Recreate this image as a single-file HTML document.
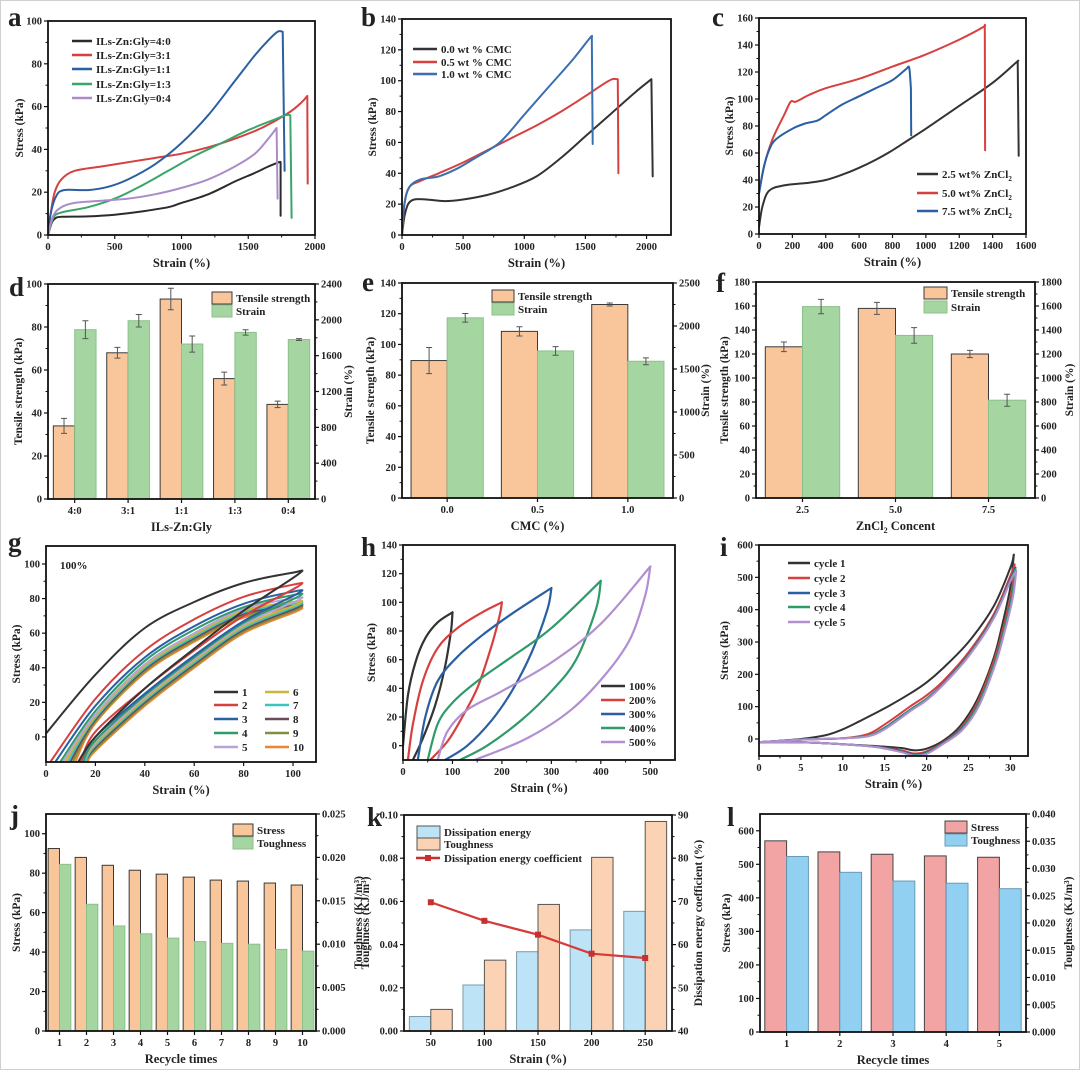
<!DOCTYPE html>
<html><head><meta charset="utf-8"><title>Mechanical properties figure</title>
<style>
html,body{margin:0;padding:0;background:#fff;}
svg{display:block;}
text{font-family:"Liberation Serif",serif;font-weight:bold;fill:#222;}
</style></head>
<body>
<svg id="fig" xmlns="http://www.w3.org/2000/svg" width="1080" height="1070" viewBox="0 0 1080 1070">
<rect x="0.5" y="0.5" width="1079" height="1069" fill="#fff" stroke="#d0d0d0"/>
</svg>
<script>
// ---------- data ----------
// panel a
const aNames=["ILs-Zn:Gly=4:0","ILs-Zn:Gly=3:1","ILs-Zn:Gly=1:1","ILs-Zn:Gly=1:3","ILs-Zn:Gly=0:4"];
const a40=[[0,0],[30,6],[60,8],[100,8.5],[300,8.7],[500,9.5],[700,11],[900,13],[1000,15],[1200,19],[1400,25],[1550,29],[1650,32],[1730,34],[1742,34],[1742,9]];
const a31=[[0,0],[20,10],[50,20],[100,26],[200,30],[400,32],[600,34],[800,36],[1000,38],[1200,41],[1400,45],[1600,50],[1800,57],[1900,62],[1942,65],[1945,24]];
const a11=[[0,0],[20,10],[60,18],[120,21],[300,21],[450,22.5],[600,26],[800,33],[1000,43],[1200,56],[1400,72],[1550,84],[1650,91],[1720,95],[1758,95],[1772,30]];
const a13=[[0,0],[40,8],[100,10.5],[300,13],[500,17],[700,23],[900,30],[1100,37],[1300,43],[1500,49],[1700,54],[1780,56],[1815,56],[1825,8]];
const a04=[[0,0],[40,9],[100,13],[200,15],[400,16],[600,17],[800,19],[1000,22],[1200,26],[1400,32],[1550,38],[1650,45],[1712,50],[1720,17]];
// panel b
const bNames=["0.0 wt % CMC","0.5 wt % CMC","1.0 wt % CMC"];
const b00=[[0,0],[20,12],[50,20],[100,23],[200,23],[350,22],[500,23],[700,26],[900,31],[1100,38],[1300,50],[1500,64],[1700,78],[1900,92],[2040,101],[2050,38]];
const b05=[[0,0],[20,20],[60,31],[150,35],[300,40],[500,47],[700,55],[900,63],[1100,71],[1300,80],[1500,90],[1650,98],[1720,101],[1765,101],[1770,40]];
const b10=[[0,0],[20,20],[60,31],[150,36],[300,38],[450,43],[600,50],[800,60],[1000,78],[1200,96],[1400,114],[1540,128],[1552,128],[1560,59]];
// panel c
const cNames=["2.5 wt% ZnCl","5.0 wt% ZnCl","7.5 wt% ZnCl"];
const c25=[[0,5],[20,20],[60,32],[150,36],[300,38],[400,40],[500,44],[600,49],[700,55],[800,62],[900,70],[1000,78],[1200,95],[1400,112],[1540,127],[1550,128],[1556,58]];
const c50=[[0,30],[30,50],[80,70],[150,88],[190,98],[220,98],[300,103],[400,108],[600,115],[800,124],[1000,133],[1200,144],[1340,153],[1353,155],[1355,62]];
const c75=[[0,30],[30,50],[60,62],[100,70],[200,78],[280,82],[350,84],[400,88],[500,96],[600,102],[700,108],[800,114],[880,122],[900,123],[910,108],[912,73]];
// panel d
const dCats=["4:0","3:1","1:1","1:3","0:4"];
const dTS=[34,68,93,56,44], dTSerr=[3.5,2.5,5,3,1.5];
const dST=[1890,1990,1730,1860,1780], dSTerr=[100,70,90,30,10];
// panel e
const eCats=["0.0","0.5","1.0"];
const eTS=[89.5,108.5,126], eTSerr=[8.5,3,1];
const eST=[2095,1710,1590], eSTerr=[50,50,40];
// panel f
const fCats=["2.5","5.0","7.5"];
const fTS=[126,158,120], fTSerr=[4,5,3];
const fST=[1595,1355,815], fSTerr=[60,65,50];
// panel g (cyclic loops at 100%)
const gStart=[0,2,4,6,7,8,9,10,11,12];
const gStartY=[2,-14,-14,-14,-14,-14,-14,-14,-14,-14];
const gLoad=[[36,63,78,89],[22,50,68,81],[18,46,64,77],[15,44,62,75],[13,42,60,74],[12,41,59,73],[11,40,58,72],[10,39,57,71],[9,38,56,70],[8,37,55,69]];
const gPeak=[95,88,84,82,80,78,77,76,75,74];
const gUnload=[[73,51,28,0],[70,50,28,3],[67,47,25,0],[66,46,24,-2],[65,45,23,-3],[64,44,22,-4],[63,43,21,-5],[62,42,20,-6],[61,41,19,-7],[60,40,18,-8]];
const gEnd=[13,14,14,15,15,15,16,16,16,17];
// panel h
const hNames=["100%","200%","300%","400%","500%"];
const hLoad=[
 [[0,0],[10,35],[25,58],[45,75],[70,86],[100,93]],
 [[10,-10],[20,15],[40,45],[70,68],[110,82],[160,93],[200,100]],
 [[30,-10],[45,20],[70,45],[110,62],[160,77],[220,92],[300,110]],
 [[50,-10],[70,15],[100,30],[150,45],[220,62],[300,82],[400,115]],
 [[70,-10],[90,10],[130,25],[200,38],[300,58],[400,85],[500,125]]];
const hUnload=[
 [[100,93],[97,80],[85,55],[65,28],[40,5],[20,-10]],
 [[200,100],[195,90],[175,65],[150,40],[120,20],[90,3],[55,-10]],
 [[300,110],[292,95],[260,65],[220,38],[180,18],[130,0],[85,-10]],
 [[400,115],[390,95],[350,60],[300,38],[240,18],[170,0],[115,-10]],
 [[500,125],[490,105],[460,75],[410,50],[340,25],[250,5],[145,-10]]];
// panel i
const iNames=["cycle 1","cycle 2","cycle 3","cycle 4","cycle 5"];
const iLoad=[
 [[0,-10],[5,0],[8,12],[10,30],[12,55],[15,95],[18,140],[20,175],[22,220],[25,300],[28,410],[30,530],[30.4,570]],
 [[0,-10],[5,-2],[10,2],[13,15],[15,45],[18,100],[20,135],[22,180],[25,268],[28,385],[30,505],[30.5,540]],
 [[0,-10],[5,-2],[10,2],[13,10],[15,35],[18,90],[20,125],[22,172],[25,260],[28,378],[30,495],[30.6,530]],
 [[0,-10],[5,-2],[10,2],[13,10],[15,33],[18,88],[20,123],[22,170],[25,258],[28,375],[30,490],[30.6,525]],
 [[0,-10],[5,-2],[10,2],[13,8],[15,30],[18,85],[20,120],[22,168],[25,255],[28,372],[30,488],[30.7,520]]];
const iUnload=[
 [[30.4,570],[30,470],[29,350],[28,250],[26,120],[24,40],[22,-5],[20,-30],[18.5,-35],[17,-28],[14,-22],[10,-16],[5,-10],[0,-10]],
 [[30.5,540],[30.1,450],[29.1,340],[28,240],[26,110],[24,32],[22,-10],[20,-38],[18.5,-45],[17,-35],[14,-24],[10,-16],[5,-10],[0,-10]],
 [[30.6,530],[30.2,445],[29.2,335],[28.1,235],[26.1,105],[24.1,30],[22,-12],[20,-42],[18.5,-48],[17,-38],[14,-24],[10,-16],[5,-10],[0,-10]],
 [[30.6,525],[30.2,440],[29.2,332],[28.1,232],[26.1,103],[24.1,28],[22,-14],[20,-44],[18.5,-50],[17,-40],[14,-25],[10,-16],[5,-10],[0,-10]],
 [[30.7,520],[30.3,438],[29.3,330],[28.2,230],[26.2,100],[24.2,26],[22,-15],[20,-46],[18.5,-52],[17,-41],[14,-25],[10,-16],[5,-10],[0,-10]]];
// panel j
const jCats=["1","2","3","4","5","6","7","8","9","10"];
const jStress=[92.5,88,84,81.5,79.5,78,76.5,76,75,74];
const jTough=[0.0192,0.0146,0.0121,0.0112,0.0107,0.0103,0.0101,0.0100,0.0094,0.0092];
// panel k
const kCats=["50","100","150","200","250"];
const kDiss=[0.0067,0.0213,0.0367,0.0468,0.0554];
const kTough=[0.0100,0.0328,0.0586,0.0804,0.0970];
const kCoef=[69.8,65.5,62.3,57.9,56.9];
// panel l
const lCats=["1","2","3","4","5"];
const lStress=[570,537,530,525,521];
const lTough=[0.0322,0.0293,0.0277,0.0273,0.0263];

// ---------- drawing helpers ----------
const NS='http://www.w3.org/2000/svg';
const svg=document.getElementById('fig');
function mk(tag,parent){const e=document.createElementNS(NS,tag);parent.appendChild(e);return e;}
function at(e,o){for(const k in o)e.setAttribute(k,o[k]);return e;}
function range(a,b,s){const r=[];for(let v=a;v<=b+1e-9;v+=s)r.push(+v.toFixed(6));return r;}
function fmt(v,d){return d==null?String(v):v.toFixed(d);}

function txt(parent,x,y,s,size,anchor,name){
  const t=mk('text',parent);
  at(t,{x:x,y:y,'font-size':size,'text-anchor':anchor||'start'});
  t.textContent=s;
  
  
  return t;
}

function makePanel(P){
  const g=mk('g',svg);
  
  
  const sx=v=>P.L+(v-P.xmin)/(P.xmax-P.xmin)*(P.R-P.L);
  const sy=v=>P.B-(v-P.ymin)/(P.ymax-P.ymin)*(P.B-P.T);
  let sy2=null;
  if(P.y2) sy2=v=>P.B-(v-P.y2.min)/(P.y2.max-P.y2.min)*(P.B-P.T);
  const ax=mk('g',g);
  
  
  P.xt.forEach((v,i)=>{
    const x=sx(v);
    const l=mk('line',ax);
    at(l,{x1:x,x2:x,y1:P.B,y2:P.B+4,stroke:'#111','stroke-width':1.2});
    
    
    txt(ax,x,P.B+15,P.xtl?P.xtl[i]:fmt(v,P.xd),10.5,'middle','x-tick-label');
    if(P.xminor&&i<P.xt.length-1){
      const xm=sx((v+P.xt[i+1])/2);
      const m=mk('line',ax);
      at(m,{x1:xm,x2:xm,y1:P.B,y2:P.B+2.5,stroke:'#111','stroke-width':1});
      
      
    }
  });
  P.yt.forEach((v,i)=>{
    const y=sy(v);
    const l=mk('line',ax);
    at(l,{x1:P.L-4,x2:P.L,y1:y,y2:y,stroke:'#111','stroke-width':1.2});
    
    
    txt(ax,P.L-6,y+3.5,fmt(v,P.yd),10.5,'end','y-tick-label');
    if(i<P.yt.length-1){
      const ym=sy((v+P.yt[i+1])/2);
      const m=mk('line',ax);
      at(m,{x1:P.L-2.5,x2:P.L,y1:ym,y2:ym,stroke:'#111','stroke-width':1});
      
      
    }
  });
  if(P.y2){
    P.y2.t.forEach((v,i)=>{
      const y=sy2(v);
      const l=mk('line',ax);
      at(l,{x1:P.R,x2:P.R+4,y1:y,y2:y,stroke:'#111','stroke-width':1.2});
      
      
      txt(ax,P.R+6,y+3.5,fmt(v,P.y2.d),10.5,'start','y2-tick-label');
      if(i<P.y2.t.length-1){
        const ym=sy2((v+P.y2.t[i+1])/2);
        const m=mk('line',ax);
        at(m,{x1:P.R,x2:P.R+2.5,y1:ym,y2:ym,stroke:'#111','stroke-width':1});
        
        
      }
    });
    const t2=txt(ax,0,0,P.y2.label,11.5,'middle','y2-axis-title');
    at(t2,{transform:'translate('+(P.R+P.y2.off)+','+((P.T+P.B)/2)+') rotate(-90)'});
  }
  const xt=txt(ax,(P.L+P.R)/2,P.B+32,P.xlabel,12.5,'middle','x-axis-title');
  if(P.xsub){
    xt.textContent=P.xlabel;
    const s=mk('tspan',xt);at(s,{'font-size':8,dy:3});s.textContent=P.xsub;
    const r=mk('tspan',xt);at(r,{dy:-3});r.textContent=P.xrest;
  }
  const yl=txt(ax,0,0,P.ylabel,11.5,'middle','y-axis-title');
  at(yl,{transform:'translate('+(P.L-P.yoff)+','+((P.T+P.B)/2)+') rotate(-90)'});
  txt(g,P.lx,P.ly,P.id,27,'start','panel-label-'+P.id);
  const plot=mk('g',g);
  
  
  const frame=mk('rect',g);
  at(frame,{x:P.L,y:P.T,width:P.R-P.L,height:P.B-P.T,fill:'none',stroke:'#111','stroke-width':1.8});
  
  
  const cp=mk('clipPath',g);cp.setAttribute('id','clip-'+P.id);
  const cr=mk('rect',cp);at(cr,{x:P.L,y:P.T,width:P.R-P.L,height:P.B-P.T});
  plot.setAttribute('clip-path','url(#clip-'+P.id+')');
  return {g,plot,sx,sy,sy2,P};
}

function smoothPath(pts){
  if(pts.length<3){return 'M'+pts.map(p=>p[0].toFixed(1)+','+p[1].toFixed(1)).join('L');}
  let d='M'+pts[0][0].toFixed(1)+','+pts[0][1].toFixed(1);
  for(let i=0;i<pts.length-1;i++){
    const p0=pts[i-1]||pts[i],p1=pts[i],p2=pts[i+1],p3=pts[i+2]||p2;
    const c1=[p1[0]+(p2[0]-p0[0])/6,p1[1]+(p2[1]-p0[1])/6];
    const c2=[p2[0]-(p3[0]-p1[0])/6,p2[1]-(p3[1]-p1[1])/6];
    d+='C'+c1[0].toFixed(1)+','+c1[1].toFixed(1)+' '+c2[0].toFixed(1)+','+c2[1].toFixed(1)+' '+p2[0].toFixed(1)+','+p2[1].toFixed(1);
  }
  return d;
}
function series(pan,data,color,name,w,sharp){
  const pts=data.map(p=>[pan.sx(p[0]),pan.sy(p[1])]);
  let d;
  if(sharp){
    const last=pts[pts.length-1];
    d=smoothPath(pts.slice(0,-1))+'L'+last[0].toFixed(1)+','+last[1].toFixed(1);
  } else d=smoothPath(pts);
  const p=mk('path',pan.plot);
  at(p,{d:d,fill:'none',stroke:color,'stroke-width':w||2,'stroke-linejoin':'round','stroke-linecap':'round'});
  
  
  return p;
}
function legLine(pan,x1,x2,y,color,label,name,sub){
  const l=mk('line',pan.g);
  at(l,{x1:x1,x2:x2,y1:y,y2:y,stroke:color,'stroke-width':2.5});
  
  
  const t=txt(pan.g,x2+4,y+4,label,11,'start',name+'-label');
  if(sub){const s=mk('tspan',t);at(s,{'font-size':7,dy:3});s.textContent=sub;}
}
function legBox(pan,x1,x2,y,fill,stroke,label,name){
  const r=mk('rect',pan.g);
  at(r,{x:x1,y:y-6,width:x2-x1,height:12,fill:fill,stroke:stroke,'stroke-width':1});
  
  
  txt(pan.g,x2+4,y+4,label,11,'start',name+'-label');
}
function bars(pan,vals,useY2,offset,wfrac,fill,stroke,name){
  const band=(pan.P.R-pan.P.L)/vals.length;
  const s=useY2?pan.sy2:pan.sy;
  vals.forEach((v,i)=>{
    const c=pan.sx(i);
    const x=c+offset*band, w=wfrac*band;
    const r=mk('rect',pan.plot);
    at(r,{x:x,y:s(v),width:w,height:pan.P.B-s(v),fill:fill,stroke:stroke,'stroke-width':1});
    
    
  });
}
function errs(pan,vals,err,useY2,offset,wfrac,name){
  const band=(pan.P.R-pan.P.L)/vals.length;
  const s=useY2?pan.sy2:pan.sy;
  vals.forEach((v,i)=>{
    const cx=pan.sx(i)+(offset+wfrac/2)*band;
    const p=mk('path',pan.plot);
    const y1=s(v+err[i]),y2=s(v-err[i]);
    at(p,{d:'M'+cx+','+y1+'V'+y2+'M'+(cx-3)+','+y1+'H'+(cx+3)+'M'+(cx-3)+','+y2+'H'+(cx+3),stroke:'#555','stroke-width':1,fill:'none'});
    
    
  });
}
function catTicks(n){return range(0,n-1,1);}

// ---------- panel a ----------
(function(){
  const pan=makePanel({id:'a',L:48,R:315,T:21,B:235,xmin:0,xmax:2000,ymin:0,ymax:100,xt:range(0,2000,500),xminor:true,yt:range(0,100,20),xlabel:'Strain (%)',ylabel:'Stress (kPa)',yoff:25,lx:8,ly:26});
  const cols=['#2b2b2b','#d6403f','#2a5fa3','#3aa66a','#a98cc8'];
  [a40,a31,a11,a13,a04].forEach((d,i)=>series(pan,d,cols[i],'curve-'+aNames[i].slice(-3).replace(':','-'),2,true));
  const ys=[41,55,69,84,98];
  aNames.forEach((n,i)=>legLine(pan,72,92,ys[i],cols[i],n,'legend-entry-'+(i+1)));
})();
// ---------- panel b ----------
(function(){
  const pan=makePanel({id:'b',L:402,R:671,T:19,B:235,xmin:0,xmax:2200,ymin:0,ymax:140,xt:range(0,2000,500),xminor:true,yt:range(0,140,20),xlabel:'Strain (%)',ylabel:'Stress (kPa)',yoff:26,lx:361,ly:26});
  const cols=['#333','#d6403f','#3a6fb0'];
  [b00,b05,b10].forEach((d,i)=>series(pan,d,cols[i],'curve-cmc-'+i,2,true));
  const ys=[49,62,74];
  bNames.forEach((n,i)=>legLine(pan,413,437,ys[i],cols[i],n,'legend-entry-'+(i+1)));
})();
// ---------- panel c ----------
(function(){
  const pan=makePanel({id:'c',L:759,R:1026,T:18,B:234,xmin:0,xmax:1600,ymin:0,ymax:160,xt:range(0,1600,200),yt:range(0,160,20),xlabel:'Strain (%)',ylabel:'Stress (kPa)',yoff:26,lx:712,ly:26});
  const cols=['#333','#d6403f','#2a5fa3'];
  [c25,c50,c75].forEach((d,i)=>series(pan,d,cols[i],'curve-zncl2-'+i,2,true));
  const ys=[174,193,211];
  cNames.forEach((n,i)=>legLine(pan,917,938,ys[i],cols[i],n,'legend-entry-'+(i+1),'2'));
})();
const OR='#f9c59b', GR='#a5d6a2', BS='#3a3a3a';
// ---------- panel d ----------
(function(){
  const pan=makePanel({id:'d',L:48,R:315,T:284,B:499,xmin:-0.5,xmax:4.5,ymin:0,ymax:100,xt:catTicks(5),xtl:dCats,yt:range(0,100,20),xlabel:'ILs-Zn:Gly',ylabel:'Tensile strength (kPa)',yoff:26,lx:9,ly:296,
    y2:{min:0,max:2400,t:range(0,2400,400),label:'Strain (%)',off:37}});
  bars(pan,dTS,false,-0.4,0.4,OR,BS,'bar-tensile');
  bars(pan,dST,true,0,0.4,GR,'#8cc08a','bar-strain');
  errs(pan,dTS,dTSerr,false,-0.4,0.4,'tensile');
  errs(pan,dST,dSTerr,true,0,0.4,'strain');
  legBox(pan,212,232,298,OR,BS,'Tensile strength','legend-tensile');
  legBox(pan,212,232,311,GR,'#8cc08a','Strain','legend-strain');
})();
// ---------- panel e ----------
(function(){
  const pan=makePanel({id:'e',L:402,R:673,T:283,B:498,xmin:-0.5,xmax:2.5,ymin:0,ymax:140,xt:catTicks(3),xtl:eCats,yt:range(0,140,20),xlabel:'CMC (%)',ylabel:'Tensile strength (kPa)',yoff:28,lx:362,ly:291,
    y2:{min:0,max:2500,t:range(0,2500,500),label:'Strain (%)',off:36}});
  bars(pan,eTS,false,-0.4,0.4,OR,BS,'bar-tensile');
  bars(pan,eST,true,0,0.4,GR,'#8cc08a','bar-strain');
  errs(pan,eTS,eTSerr,false,-0.4,0.4,'tensile');
  errs(pan,eST,eSTerr,true,0,0.4,'strain');
  legBox(pan,492,514,296,OR,BS,'Tensile strength','legend-tensile');
  legBox(pan,492,514,309,GR,'#8cc08a','Strain','legend-strain');
})();
// ---------- panel f ----------
(function(){
  const pan=makePanel({id:'f',L:756,R:1035,T:282,B:498,xmin:-0.5,xmax:2.5,ymin:0,ymax:180,xt:catTicks(3),xtl:fCats,yt:range(0,180,20),xlabel:'ZnCl',xsub:'2',xrest:' Concent',ylabel:'Tensile strength (kPa)',yoff:28,lx:716,ly:292,
    y2:{min:0,max:1800,t:range(0,1800,200),label:'Strain (%)',off:38}});
  bars(pan,fTS,false,-0.4,0.4,OR,BS,'bar-tensile');
  bars(pan,fST,true,0,0.4,GR,'#8cc08a','bar-strain');
  errs(pan,fTS,fTSerr,false,-0.4,0.4,'tensile');
  errs(pan,fST,fSTerr,true,0,0.4,'strain');
  legBox(pan,924,947,293,OR,BS,'Tensile strength','legend-tensile');
  legBox(pan,924,947,307,GR,'#8cc08a','Strain','legend-strain');
})();
// ---------- panel g ----------
(function(){
  const pan=makePanel({id:'g',L:46,R:316,T:546,B:762,xmin:0,xmax:109.3,ymin:-14.5,ymax:110.4,xt:range(0,100,20),yt:range(0,100,20),xlabel:'Strain (%)',ylabel:'Stress (kPa)',yoff:26,lx:8,ly:551});
  const cols=['#333','#d6403f','#2a5fa3','#2f9a6a','#b9a3d6','#cdb43a','#3ec4c0','#6b4a5a','#7f9040','#ea8530'];
  const xs=[20,40,60,80];
  for(let c=gPeak.length-1;c>=0;c--){
    const loop=[[gStart[c],gStartY[c]]];
    xs.forEach((x,k)=>loop.push([x,gLoad[c][k]]));
    loop.push([100,gPeak[c]]);
    loop.push([102,gPeak[c]-1]);
    [80,60,40,20].forEach((x,k)=>loop.push([x,gUnload[c][k]]));
    loop.push([gEnd[c],-14.5]);
    series(pan,loop,cols[c],'cycle-'+(c+1),2);
  }
  txt(pan.g,60,569,'100%',11,'start','strain-annotation');
  const ys=[692,705,719,733,747];
  for(let i=0;i<5;i++){
    legLine(pan,214,238,ys[i],cols[i],String(i+1),'legend-entry-'+(i+1));
    legLine(pan,265,289,ys[i],cols[i+5],String(i+6),'legend-entry-'+(i+6));
  }
})();
// ---------- panel h ----------
(function(){
  const pan=makePanel({id:'h',L:403,R:675,T:545,B:760,xmin:0,xmax:550,ymin:-10,ymax:140,xt:range(0,500,100),xminor:true,yt:range(0,140,20),xlabel:'Strain (%)',ylabel:'Stress (kPa)',yoff:28,lx:361,ly:556});
  const cols=['#333','#d6403f','#2a5fa3','#2f9a6a','#b18fd0'];
  hLoad.forEach((d,i)=>{series(pan,d,cols[i],'loading-'+hNames[i].replace('%','pct'),2.2);series(pan,hUnload[i],cols[i],'unloading-'+hNames[i].replace('%','pct'),2.2);});
  const ys=[686,700,714,728,742];
  hNames.forEach((n,i)=>legLine(pan,601,625,ys[i],cols[i],n,'legend-entry-'+(i+1)));
})();
// ---------- panel i ----------
(function(){
  const pan=makePanel({id:'i',L:759,R:1028,T:545,B:756,xmin:0,xmax:32.1,ymin:-52.6,ymax:600,xt:range(0,30,5),xminor:true,yt:range(0,600,100),xlabel:'Strain (%)',ylabel:'Stress (kPa)',yoff:31,lx:720,ly:556});
  const cols=['#333','#d6403f','#2a5fa3','#2f9a6a','#b18fd0'];
  iLoad.forEach((d,i)=>{series(pan,d,cols[i],'loading-cycle-'+(i+1),2);series(pan,iUnload[i],cols[i],'unloading-cycle-'+(i+1),2);});
  const ys=[563,578,593,607,622];
  iNames.forEach((n,i)=>legLine(pan,788,810,ys[i],cols[i],n,'legend-entry-'+(i+1)));
})();
// ---------- panel j ----------
(function(){
  const pan=makePanel({id:'j',L:46,R:316,T:814,B:1031,xmin:-0.5,xmax:9.5,ymin:0,ymax:110,xt:catTicks(10),xtl:jCats,yt:range(0,100,20),xlabel:'Recycle times',ylabel:'Stress (kPa)',yoff:26,lx:10,ly:824,
    y2:{min:0,max:0.025,t:range(0,0.025,0.005),d:3,label:'Toughness (KJ/m³)',off:46}});
  bars(pan,jStress,false,-0.42,0.42,OR,BS,'bar-stress');
  bars(pan,jTough,true,0,0.42,GR,'#8cc08a','bar-toughness');
  legBox(pan,233,253,830,OR,BS,'Stress','legend-stress');
  legBox(pan,233,253,843,GR,'#8cc08a','Toughness','legend-toughness');
})();
// ---------- panel k ----------
(function(){
  const pan=makePanel({id:'k',L:404,R:672,T:815,B:1031,xmin:-0.5,xmax:4.5,ymin:0,ymax:0.1,xt:catTicks(5),xtl:kCats,yt:range(0,0.1,0.02),yd:2,xlabel:'Strain (%)',ylabel:'Toughness (KJ/m³)',yoff:35,lx:367,ly:826,
    y2:{min:40,max:90,t:range(40,90,10),label:'Dissipation energy coefficient (%)',off:30}});
  bars(pan,kDiss,false,-0.4,0.4,'#bde3f6','#7a9aaa','bar-dissipation');
  bars(pan,kTough,false,0,0.4,'#fbd3b4','#555','bar-toughness');
  const pts=kCoef.map((v,i)=>[pan.sx(i),pan.sy2(v)]);
  const pl=mk('polyline',pan.plot);
  at(pl,{points:pts.map(p=>p.join(',')).join(' '),fill:'none',stroke:'#d63a3a','stroke-width':2.2});
  
  
  pts.forEach((p,i)=>{
    const m=mk('rect',pan.plot);
    at(m,{x:p[0]-3,y:p[1]-3,width:6,height:6,fill:'#c83030'});
    
    
  });
  legBox(pan,417,440,832,'#bde3f6','#555','Dissipation energy','legend-dissipation');
  legBox(pan,417,440,844,'#fbd3b4','#555','Toughness','legend-toughness');
  legLine(pan,416,440,858,'#c83030','Dissipation energy coefficient','legend-coefficient');
  const lm=mk('rect',pan.g);
  at(lm,{x:425,y:855,width:6,height:6,fill:'#c83030'});
  
  
})();
// ---------- panel l ----------
(function(){
  const pan=makePanel({id:'l',L:760,R:1026,T:814,B:1032,xmin:-0.5,xmax:4.5,ymin:0,ymax:650,xt:catTicks(5),xtl:lCats,yt:range(0,600,100),xlabel:'Recycle times',ylabel:'Stress (kPa)',yoff:30,lx:727,ly:826,
    y2:{min:0,max:0.04,t:range(0,0.04,0.005),d:3,label:'Toughness (KJ/m³)',off:46}});
  bars(pan,lStress,false,-0.41,0.41,'#f2a3a3','#444','bar-stress');
  bars(pan,lTough,true,0,0.41,'#92d0f2','#6a9ab8','bar-toughness');
  legBox(pan,945,967,827,'#f2a3a3','#444','Stress','legend-stress');
  legBox(pan,945,967,840,'#92d0f2','#6a9ab8','Toughness','legend-toughness');
})();
</script>
</body></html>
